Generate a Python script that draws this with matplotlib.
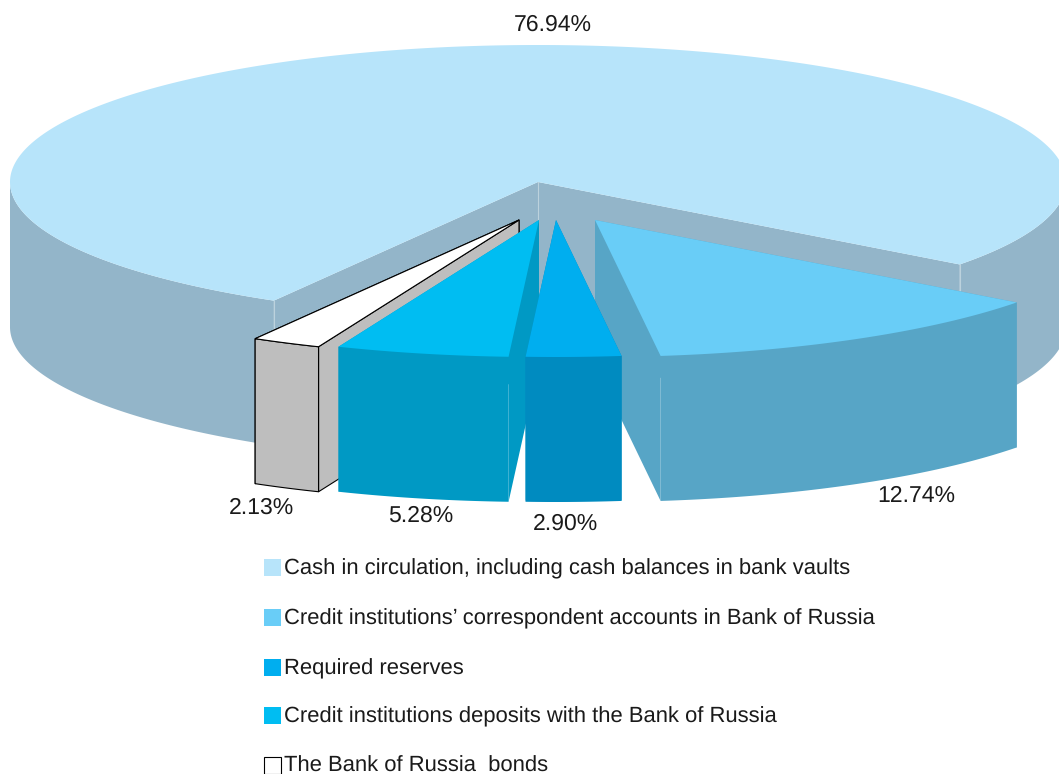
import numpy as np
import matplotlib
matplotlib.use("Agg")
import matplotlib.pyplot as plt
from matplotlib.patches import Rectangle

plt.rcParams['font.family'] = ['Liberation Sans', 'DejaVu Sans']
plt.rcParams['text.hinting'] = 'no_hinting'
plt.rcParams['text.hinting_factor'] = 1

categories = ["Cash in circulation, including cash balances in bank vaults",
              "Credit institutions\u2019 correspondent accounts in Bank of Russia",
              "Required reserves",
              "Credit institutions deposits with the Bank of Russia",
              "The Bank of Russia  bonds"]
shares = [76.94, 12.74, 2.90, 5.28, 2.13]
value_labels = ["76.94%", "12.74%", "2.90%", "5.28%", "2.13%"]
top_colors = ["#b7e4fa", "#69cdf7", "#00aeef", "#00bdf2", "#ffffff"]
side_colors = ["#93b5c9", "#57a5c6", "#008bc0", "#0099c4", "#bebebe"]

# pie geometry (pixels)
RX, RY, H = 528, 137, 145
START = -37.0
centers = [(538, 182), (595, 220), (556, 220), (539, 220), (519, 220)]
label_pos = [(553, 25), (916, 496), (565, 524), (421, 516), (261, 508)]
legend_tops = [559, 609, 659, 707, 757]
draw_order = [0, 1, 4, 3, 2]

fig = plt.figure(figsize=(10.59, 7.74), dpi=100)
ax = fig.add_axes([0, 0, 1, 1])
ax.set_xlim(0, 1059)
ax.set_ylim(774, 0)
ax.axis('off')


def arc(c, a0, a1, n=200):
    t = np.radians(np.linspace(a0, a1, n))
    return c[0] + RX * np.cos(t), c[1] - RY * np.sin(t)


def wall(c, ang):
    x, y = arc(c, ang, ang, 1)
    return [c[0], x[0], x[0], c[0]], [c[1], y[0], y[0] + H, c[1] + H]


# angular span of every slice: the first runs counter-clockwise from START,
# the others clockwise from START
spans = []
a = START
spans.append((START, START + shares[0] * 3.6))
for s in shares[1:]:
    spans.append((a - s * 3.6, a))
    a -= s * 3.6

for i in draw_order:
    c = centers[i]
    a0, a1 = spans[i]
    outline = {'edgecolor': 'black', 'linewidth': 0.8} if i == 4 else {'edgecolor': 'none', 'linewidth': 0}
    # cut walls
    for ang in (a0, a1):
        wx, wy = wall(c, ang)
        ax.fill(wx, wy, facecolor=side_colors[i], joinstyle='round', **outline)
    # outer side: lower half only
    ranges = [(a0, a1)] if i else [(a0, 0), (180, a1)]
    for r0, r1 in ranges:
        x, y = arc(c, r0, r1)
        ax.fill(np.r_[x, x[::-1]], np.r_[y, y[::-1] + H], facecolor=side_colors[i], **outline)
    if i == 0:
        for ang in (a0, a1):
            x, y = arc(c, ang, ang, 1)
            ax.plot([x[0], x[0]], [y[0], y[0] + H], color="#bcd2dd", lw=0.8, zorder=1)
        ax.plot([c[0], c[0]], [c[1], c[1] + H], color="#bcd2dd", lw=0.8, zorder=1)
    # top face
    x, y = arc(c, a0, a1, 400)
    ax.fill(np.r_[c[0], x], np.r_[c[1], y], facecolor=top_colors[i], **outline)

for lab, (lx, ly) in zip(value_labels, label_pos):
    ax.text(lx, ly, lab, ha='center', va='center', fontsize=16.4, color="#1a1a1a")

for i, (cat, top) in enumerate(zip(categories, legend_tops)):
    ec = 'black' if i == 4 else 'none'
    ax.add_patch(Rectangle((264, top), 17, 16.5, facecolor=top_colors[i], edgecolor=ec, linewidth=0.8))
    ax.text(284, top + 15, cat, ha='left', va='baseline', fontsize=15.65, color="#1a1a1a")

fig.savefig("out.png", dpi=100)
